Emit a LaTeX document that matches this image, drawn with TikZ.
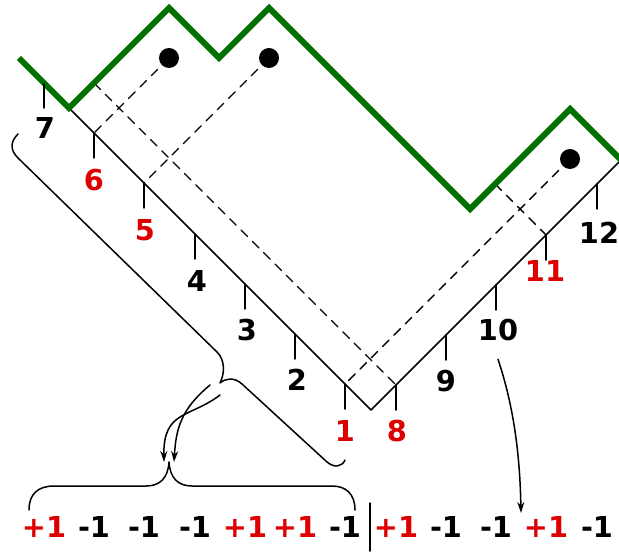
\documentclass[tikz,border=0pt]{standalone}
\usepackage{fontspec}
\setmainfont{DejaVu Sans}
\usetikzlibrary{arrows.meta}
\definecolor{pathgreen}{RGB}{0,112,0}
\definecolor{plusred}{RGB}{221,0,0}
\tikzset{
  lbl/.style={font=\fontsize{14.4}{17}\selectfont\bfseries,inner sep=0pt},
  plus/.style={lbl,text=plusred},
  tick/.style={line width=0.75pt},
  guide/.style={line width=0.7pt,dash pattern=on 4.5pt off 3.5pt},
  tip/.style={-{Stealth[length=5.5pt,width=3.5pt]}}
}

\begin{document}
\begin{tikzpicture}[x=0.5pt,y=-0.5pt,line cap=round,line join=round]
  \useasboundingbox (0,0) rectangle (619,555);
  \clip (0,0) rectangle (619,555);
  % points on the lower path
  \coordinate (t7) at (44,84);
  \coordinate (t6) at (94,133);
  \coordinate (t5) at (144,183);
  \coordinate (t4) at (195,234);
  \coordinate (t3) at (245,284);
  \coordinate (t2) at (295,334);
  \coordinate (t1) at (345,384);
  \coordinate (bot) at (371,410);
  \coordinate (t8) at (396,385);
  \coordinate (t9) at (446,335);
  \coordinate (t10) at (496,285);
  \coordinate (t11) at (546,235);
  \coordinate (t12) at (597,184);
  \coordinate (g6) at (94,83);
  \coordinate (g10) at (495,184);
  \coordinate (p1) at (169,58);
  \coordinate (p2) at (269,58);
  \coordinate (p3) at (570,159);
  % dashed guides
  \draw[guide] (p1) -- (t6);
  \draw[guide] (p2) -- (t5);
  \draw[guide] (g6) -- (t8);
  \draw[guide] (p3) -- (t1);
  \draw[guide] (g10) -- (t11);
  % lower path
  \draw[line width=0.75pt] (69,108) -- (bot) -- (621,160);
  % upper path
  \draw[pathgreen,line width=3pt,line cap=butt,line join=miter]
    (19,58) -- (69,108) -- (169,8) -- (219,58) -- (269,8) -- (470,209)
    -- (570,109) -- (621,160);
  \fill (p1) circle (10);
  \fill (p2) circle (10);
  \fill (p3) circle (10);
  % ticks
  \draw[tick] (t7) -- ++(0,24);
  \draw[tick] (t6) -- ++(0,25);
  \draw[tick] (t5) -- ++(0,25);
  \draw[tick] (t4) -- ++(0,25);
  \draw[tick] (t3) -- ++(0,25);
  \draw[tick] (t2) -- ++(0,25);
  \draw[tick] (t1) -- ++(0,25);
  \draw[tick] (t8) -- ++(0,25);
  \draw[tick] (t9) -- ++(0,25);
  \draw[tick] (t10) -- ++(0,25);
  \draw[tick] (t11) -- ++(0,25);
  \draw[tick] (t12) -- ++(0,25);
  \node[lbl] (n7) at (45,128) {7};
  \node[plus] (n6) at (94,180) {6};
  \node[plus] (n5) at (145,230) {5};
  \node[lbl] (n4) at (197,281) {4};
  \node[lbl] (n3) at (247,330) {3};
  \node[lbl] (n2) at (297,380) {2};
  \node[plus] (n1) at (345,431) {1};
  \node[plus] (n8) at (397,431) {8};
  \node[lbl] (n9) at (446,381) {9};
  \node[lbl] (n10) at (498,330) {10};
  \node[plus] (n11) at (545,271) {11};
  \node[lbl] (n12) at (599,233) {12};
  % slanted brace
  \draw[line width=0.75pt] (18,134) .. controls (10,142) and (10,150) .. (18,158)
    -- (217,352) .. controls (225,360) and (225,373) .. (220,383)
    .. controls (226,378) and (234,377) .. (242,384)
    -- (327,462) .. controls (334,468) and (342,467) .. (345,460);
  % brace below the steps
  \coordinate (bt) at (169,462);
  \draw[line width=0.75pt] (29,510) .. controls (29,494) and (38,486) .. (54,486)
    -- (146,486) .. controls (160,486) and (168,478) .. (bt)
    .. controls (170,478) and (178,486) .. (192,486)
    -- (332,486) .. controls (346,486) and (355,494) .. (355,510);
  \coordinate (aL) at (164,462);
  \coordinate (aR) at (174,462);
  \coordinate (sA) at (210,385);
  \coordinate (sB) at (220,395);
  \draw[line width=0.75pt,tip] (sA) .. controls (180,410) and (176,430) .. (aR);
  \draw[line width=0.75pt,tip] (sB) .. controls (190,418) and (163,410) .. (aL);
  % step values
  \node[plus] (s1) at (44,527) {+1};
  \node[lbl] (s2) at (94,527) {-1};
  \node[lbl] (s3) at (144,527) {-1};
  \node[lbl] (s4) at (195,527) {-1};
  \node[plus] (s5) at (245,527) {+1};
  \node[plus] (s6) at (295,527) {+1};
  \node[lbl] (s7) at (345,527) {-1};
  \node[plus] (s8) at (396,527) {+1};
  \node[lbl] (s9) at (446,527) {-1};
  \node[lbl] (s10) at (496,527) {-1};
  \node[plus] (s11) at (546,527) {+1};
  \node[lbl] (s12) at (597,527) {-1};
  \draw[line width=0.75pt] (370,503) -- (370,551);
  \coordinate (aE) at (521,513);
  \draw[line width=0.75pt,tip] ([yshift=-9pt]n10.south) .. controls (515,410) and (520,460) .. (aE);
\end{tikzpicture}
\end{document}
